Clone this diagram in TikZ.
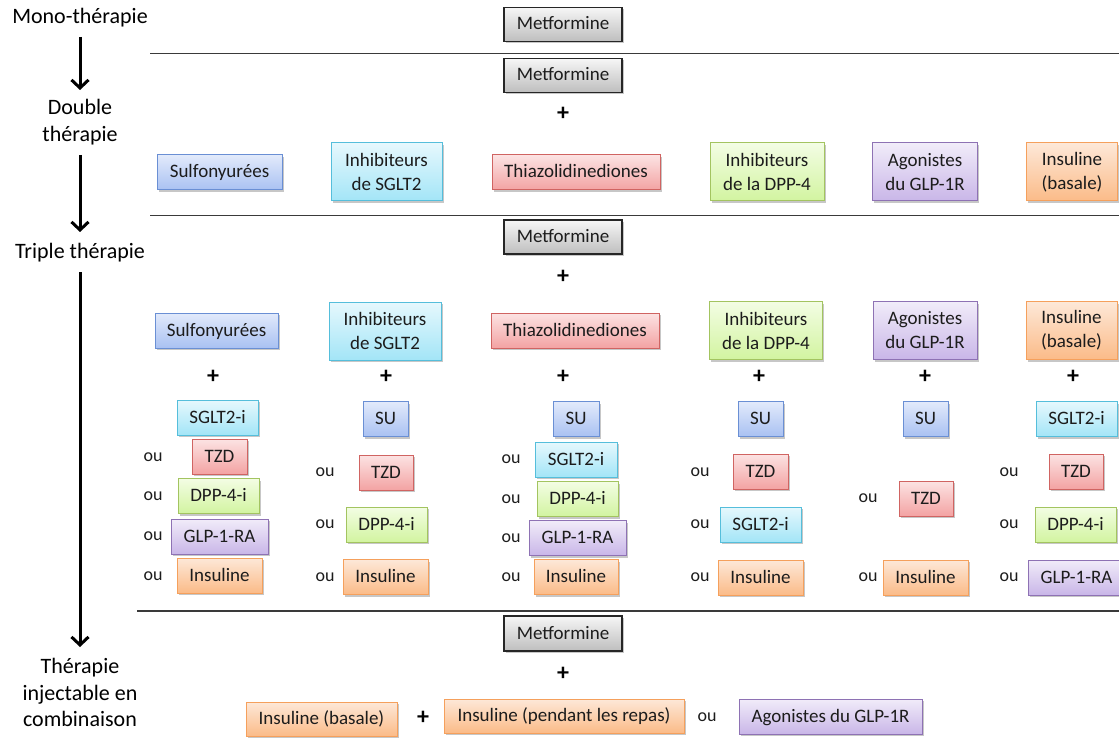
\documentclass[tikz,border=0pt]{standalone}
\usepackage{fontspec}
\setmainfont{Carlito}
\usetikzlibrary{shadows,arrows.meta}
\definecolor{txt}{HTML}{1C1C1C}
\definecolor{bluB}{HTML}{6A8FD4}\definecolor{bluT}{HTML}{E2EAFB}\definecolor{bluD}{HTML}{A9C1F2}
\definecolor{cyaB}{HTML}{55BEDB}\definecolor{cyaT}{HTML}{E6F8FD}\definecolor{cyaD}{HTML}{A3E5F7}
\definecolor{redB}{HTML}{D06462}\definecolor{redT}{HTML}{FCE3E3}\definecolor{redD}{HTML}{F3A3A3}
\definecolor{grnB}{HTML}{A3C460}\definecolor{grnT}{HTML}{F3FDE4}\definecolor{grnD}{HTML}{D2F4A0}
\definecolor{purB}{HTML}{8E72B4}\definecolor{purT}{HTML}{F1ECF9}\definecolor{purD}{HTML}{C9B6E8}
\definecolor{oraB}{HTML}{F5A05C}\definecolor{oraT}{HTML}{FDE8D8}\definecolor{oraD}{HTML}{FBBB88}
\definecolor{metT}{HTML}{F6F6F6}\definecolor{metD}{HTML}{BEBEBE}
\definecolor{sepc}{HTML}{3A3A3A}
\tikzset{
  x=1pt,y=-1pt,
  base/.style={rectangle,inner sep=2pt,line width=1pt,text=txt,align=center,
    font=\fontsize{19}{24}\selectfont,minimum height=35pt,
    drop shadow={shadow xshift=1.5pt,shadow yshift=-2pt,opacity=0.22,fill=black}},
  one/.style={text height=14pt,text depth=3pt},
  blu/.style={base,draw=bluB,top color=bluT,bottom color=bluD},
  cya/.style={base,draw=cyaB,top color=cyaT,bottom color=cyaD},
  rdd/.style={base,draw=redB,top color=redT,bottom color=redD},
  grn/.style={base,draw=grnB,top color=grnT,bottom color=grnD},
  pur/.style={base,draw=purB,top color=purT,bottom color=purD},
  ora/.style={base,draw=oraB,top color=oraT,bottom color=oraD},
  met/.style={base,one,draw=black!85,line width=1.3pt,top color=metT,bottom color=metD,minimum width=118pt,minimum height=34pt},
  lab/.style={align=center,text=black,font=\fontsize{22}{26.5}\selectfont},
  plus/.style={text=black,font=\bfseries\fontsize{24}{24}\selectfont,inner sep=0pt},
  ou/.style={text=txt,font=\fontsize{18}{18}\selectfont,inner sep=0pt},
  sep/.style={draw=sepc,line width=1.3pt},
  arr/.style={line width=3pt,-{Straight Barb[length=8pt,width=17pt,line width=3pt]}}
}
\begin{document}
\begin{tikzpicture}
\useasboundingbox[fill=white] (0,0) rectangle (1119,738);
% left labels
\node[lab] (mono) at (80,18) {Mono-thérapie};
\node[lab] (dbl) at (80,122) {Double\\thérapie};
\node[lab] (trip) at (80,253) {Triple thérapie};
\node[lab] (inj) at (80,692.5) {Thérapie\\injectable en\\combinaison};
\coordinate (a1s) at (80,37); \coordinate (a1e) at (80,90);
\coordinate (a2s) at (80,155); \coordinate (a2e) at (80,232);
\coordinate (a3s) at (80,272); \coordinate (a3e) at (80,647);
\draw[arr] (a1s) -- (a1e);
\draw[arr] (a2s) -- (a2e);
\draw[arr] (a3s) -- (a3e);
% separators
\coordinate (l1a) at (150,53.5); \coordinate (l1b) at (1119,53.5);
\coordinate (l2a) at (150,215.5); \coordinate (l2b) at (1119,215.5);
\coordinate (l3a) at (137,611); \coordinate (l3b) at (1119,611);
\draw[sep] (l1a) -- (l1b);
\draw[sep] (l2a) -- (l2b);
\draw[sep] (l3a) -- (l3b);
% row 1
\node[met] (m1) at (563,24.5) {Metformine};
% row 2
\node[met] (m2) at (563,75.5) {Metformine};
\node[plus] (p2) at (563,114) {+};
\node[blu,one,minimum width=125pt] (s2a) at (219.5,172.5) {Sulfonyurées};
\node[cya,minimum width=111pt,minimum height=58pt] (s2b) at (386.5,172) {Inhibiteurs\\de SGLT2};
\node[rdd,one,minimum width=168pt] (s2c) at (576,172.5) {Thiazolidinediones};
\node[grn,minimum width=114pt,minimum height=58pt] (s2d) at (767,172) {Inhibiteurs\\de la DPP-4};
\node[pur,minimum width=105pt,minimum height=58pt] (s2e) at (925,172) {Agonistes\\du GLP-1R};
\node[ora,minimum width=91pt,minimum height=58pt] (s2f) at (1072,172) {Insuline\\(basale)};
% row 3
\node[met] (m3) at (563,237) {Metformine};
\node[plus] (p3) at (563,277) {+};
\node[blu,one,minimum width=123pt] (s3a) at (216.5,330.5) {Sulfonyurées};
\node[cya,minimum width=112pt,minimum height=58pt] (s3b) at (385,331) {Inhibiteurs\\de SGLT2};
\node[rdd,one,minimum width=168pt] (s3c) at (575,330.5) {Thiazolidinediones};
\node[grn,minimum width=113pt,minimum height=58pt] (s3d) at (766,330.5) {Inhibiteurs\\de la DPP-4};
\node[pur,minimum width=104pt,minimum height=58pt] (s3e) at (925,330.5) {Agonistes\\du GLP-1R};
\node[ora,minimum width=91pt,minimum height=58pt] (s3f) at (1071.5,330.5) {Insuline\\(basale)};
\node[plus] (q1) at (213,377) {+};
\node[plus] (q2) at (386,377) {+};
\node[plus] (q3) at (563,377) {+};
\node[plus] (q4) at (759,377) {+};
\node[plus] (q5) at (925,377) {+};
\node[plus] (q6) at (1073,377) {+};
% column 1
\node[cya,one,minimum width=81pt] (c1a) at (217.5,417.5) {SGLT2-i};
\node[rdd,one,minimum width=55pt] (c1b) at (219.5,456.5) {TZD};
\node[grn,one,minimum width=81pt] (c1c) at (218.5,496) {DPP-4-i};
\node[pur,one,minimum width=97pt] (c1d) at (219.5,536.5) {GLP-1-RA};
\node[ora,one,minimum width=85pt] (c1e) at (219.5,575.5) {Insuline};
\node[ou] (o1b) at (153,457) {ou};
\node[ou] (o1c) at (153,496) {ou};
\node[ou] (o1d) at (153,536) {ou};
\node[ou] (o1e) at (153,576) {ou};
% column 2
\node[blu,one,minimum width=45pt] (c2a) at (385.5,419) {SU};
\node[rdd,one,minimum width=54pt] (c2b) at (386,472.5) {TZD};
\node[grn,one,minimum width=81pt] (c2c) at (386.5,524.5) {DPP-4-i};
\node[ora,one,minimum width=85pt] (c2d) at (385.5,577) {Insuline};
\node[ou] (o2b) at (325,472) {ou};
\node[ou] (o2c) at (325,524) {ou};
\node[ou] (o2d) at (325,577) {ou};
% column 3
\node[blu,one,minimum width=46pt] (c3a) at (576,419) {SU};
\node[cya,one,minimum width=82pt] (c3b) at (576,459.5) {SGLT2-i};
\node[grn,one,minimum width=81pt] (c3c) at (577.5,499) {DPP-4-i};
\node[pur,one,minimum width=97pt] (c3d) at (577.5,538) {GLP-1-RA};
\node[ora,one,minimum width=84pt] (c3e) at (576,577) {Insuline};
\node[ou] (o3b) at (511,459) {ou};
\node[ou] (o3c) at (511,499) {ou};
\node[ou] (o3d) at (511,538) {ou};
\node[ou] (o3e) at (511,577) {ou};
% column 4
\node[blu,one,minimum width=45pt] (c4a) at (760.5,419) {SU};
\node[rdd,one,minimum width=55pt] (c4b) at (760.5,471.5) {TZD};
\node[cya,one,minimum width=81pt] (c4c) at (760.5,524.5) {SGLT2-i};
\node[ora,one,minimum width=85pt] (c4d) at (760.5,577.5) {Insuline};
\node[ou] (o4b) at (700,472) {ou};
\node[ou] (o4c) at (700,524) {ou};
\node[ou] (o4d) at (700,577) {ou};
% column 5
\node[blu,one,minimum width=45pt] (c5a) at (925.5,419) {SU};
\node[rdd,one,minimum width=54pt] (c5b) at (926,498.5) {TZD};
\node[ora,one,minimum width=85pt] (c5c) at (925.5,577.5) {Insuline};
\node[ou] (o5b) at (868,498) {ou};
\node[ou] (o5c) at (868,577) {ou};
% column 6
\node[cya,one,minimum width=81pt] (c6a) at (1076.5,419) {SGLT2-i};
\node[rdd,one,minimum width=54pt] (c6b) at (1076,471.5) {TZD};
\node[grn,one,minimum width=81pt] (c6c) at (1075.5,524.5) {DPP-4-i};
\node[pur,one,minimum width=97pt] (c6d) at (1076.5,577.5) {GLP-1-RA};
\node[ou] (o6b) at (1009,472) {ou};
\node[ou] (o6c) at (1009,524) {ou};
\node[ou] (o6d) at (1009,577) {ou};
% bottom
\node[met,minimum height=35pt] (m4) at (563,633.5) {Metformine};
\node[plus] (p4) at (563,674) {+};
\node[ora,one,minimum width=151pt,minimum height=34pt] (b1) at (321.5,719) {Insuline (basale)};
\node[plus] (p5) at (423,718) {+};
\node[ora,one,minimum width=240pt,minimum height=34pt] (b2) at (564,716) {Insuline (pendant les repas)};
\node[ou] (o7) at (707,717) {ou};
\node[pur,one,minimum width=183pt] (b3) at (830.5,716.5) {Agonistes du GLP-1R};
\end{tikzpicture}
\end{document}
